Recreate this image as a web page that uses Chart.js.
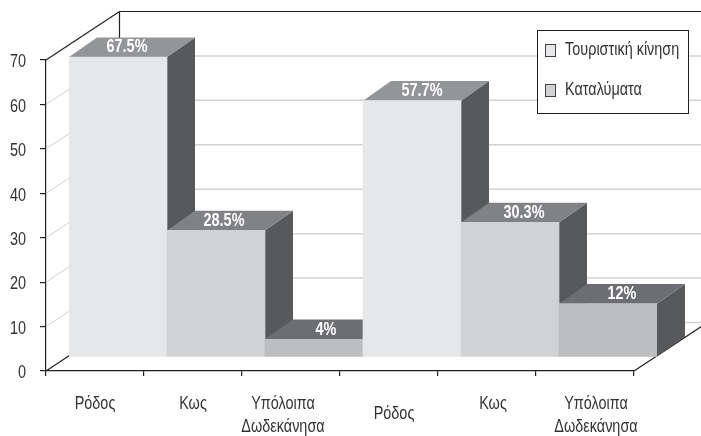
<!DOCTYPE html>
<html>
<head>
<meta charset="utf-8">
<style>
  html, body { margin: 0; padding: 0; background: #fff; }
  canvas { display: block; }
</style>
<script src="https://cdn.jsdelivr.net/npm/chart.js@4/dist/chart.umd.min.js"></script>
</head>
<body>
<canvas id="chart" width="701" height="436"></canvas>
<script>
const categories = ['Ρόδος', 'Κως', ['Υπόλοιπα', 'Δωδεκάνησα'], 'Ρόδος', 'Κως', ['Υπόλοιπα', 'Δωδεκάνησα']];
const shares = [67.5, 28.5, 4, 57.7, 30.3, 12];
const legendLabels = ['Τουριστική κίνηση', 'Καταλύματα'];

const FONT = '"Liberation Sans", sans-serif';
const INK = '#231f20';
const TEXT = '#333333';
const GRID = '#d1d2d4';
const frontColors = ['#e6e7e8', '#d1d2d4', '#bcbec0', '#e6e7e8', '#d1d2d4', '#bcbec0'];
const topColors = ['#939598', '#808285', '#6d6e71', '#939598', '#808285', '#6d6e71'];
const SIDE = '#58595b';

// 3d projection: wall depth, how far the bars stand off the front edge, bar depth
const WALL = { x: 73.5, y: -48.5 };
const FLOOR = { x: 23, y: -14 };
const DEPTH = { x: 28, y: -19.7 };

// no condensed face installed, so the text gets squeezed by hand
const NARROW = 0.76;

// hand nudges, the source has these labels placed by eye
const labelShiftX = [0, 0, -8, 5, 6, 11];
const labelShiftY = [0, 0, 0, 10, 0, 0];
const valueShiftX = [9, 8, 12, 10, 14, 14];

function poly(ctx, pts, fill) {
    ctx.beginPath();
    pts.forEach((p, i) => i ? ctx.lineTo(p[0], p[1]) : ctx.moveTo(p[0], p[1]));
    ctx.closePath();
    ctx.fillStyle = fill;
    ctx.fill();
}

function line(ctx, x1, y1, x2, y2, color, width) {
    ctx.beginPath();
    ctx.moveTo(x1, y1);
    ctx.lineTo(x2, y2);
    ctx.strokeStyle = color;
    ctx.lineWidth = width;
    ctx.stroke();
}

function narrowText(ctx, str, x, y, align) {
    ctx.save();
    ctx.translate(x, y);
    ctx.scale(NARROW, 1);
    ctx.textAlign = align;
    ctx.textBaseline = 'middle';
    ctx.fillText(str, 0, 0);
    ctx.restore();
}

const box3d = {
    id: 'box3d',

    beforeDatasetsDraw(chart) {
        const { ctx, chartArea, scales } = chart;
        const left = chartArea.left;
        const right = chartArea.right;
        const y = scales.y;

        // walls and floor
        y.ticks.forEach(t => {
            const py = y.getPixelForValue(t.value);
            const edge = t.value === 0 || t.value === 70;
            line(ctx, left, py, left + WALL.x, py + WALL.y, edge ? INK : GRID, edge ? 1.2 : 1);
            line(ctx, left + WALL.x, py + WALL.y, right + WALL.x, py + WALL.y,
                t.value === 70 ? INK : GRID, t.value === 70 ? 1.2 : 1.5);
        });
        const py0 = y.getPixelForValue(0);
        line(ctx, left + WALL.x, y.getPixelForValue(70) + WALL.y, left + WALL.x, py0 + WALL.y, INK, 1.2);
        line(ctx, right, py0, right + WALL.x, py0 + WALL.y, INK, 1.2);

        // sides and tops go under the fronts, left to right
        chart.getDatasetMeta(0).data.forEach((bar, i) => {
            const x0 = bar.x - bar.width / 2 + FLOOR.x;
            const x1 = bar.x + bar.width / 2 + FLOOR.x;
            const top = bar.y + FLOOR.y;
            const base = bar.base + FLOOR.y;
            poly(ctx, [[x1, top], [x1 + DEPTH.x, top + DEPTH.y], [x1 + DEPTH.x, base + DEPTH.y], [x1, base]], SIDE);
            poly(ctx, [[x0, top], [x0 + DEPTH.x, top + DEPTH.y], [x1 + DEPTH.x, top + DEPTH.y], [x1, top]], topColors[i]);
        });

        ctx.save();
        ctx.translate(FLOOR.x, FLOOR.y);
    },

    afterDatasetsDraw(chart) {
        const { ctx, scales } = chart;
        ctx.restore();
        ctx.save();

        // value labels sit on the top faces
        ctx.font = 'bold 19px ' + FONT;
        ctx.fillStyle = '#ffffff';
        chart.getDatasetMeta(0).data.forEach((bar, i) => {
            narrowText(ctx, shares[i] + '%', bar.x + FLOOR.x + valueShiftX[i], bar.y + FLOOR.y + DEPTH.y / 2, 'center');
        });

        // axis labels
        ctx.font = '19px ' + FONT;
        ctx.fillStyle = TEXT;
        scales.y.ticks.forEach(t => {
            narrowText(ctx, String(t.value), 26, scales.y.getPixelForValue(t.value) + 2, 'right');
        });
        categories.forEach((label, i) => {
            const x = scales.x.getPixelForValue(i) + labelShiftX[i];
            const y = scales.x.top + 33 + labelShiftY[i];
            [].concat(label).forEach((row, r) => narrowText(ctx, row, x, y + r * 23, 'center'));
        });

        // legend box
        ctx.fillStyle = '#ffffff';
        ctx.fillRect(537.5, 30.5, 151, 83);
        ctx.strokeStyle = INK;
        ctx.lineWidth = 1;
        ctx.strokeRect(537.5, 30.5, 151, 83);
        legendLabels.forEach((label, i) => {
            const top = 44.5 + i * 40;
            ctx.fillStyle = frontColors[i];
            ctx.fillRect(545.5, top, 10, 12);
            ctx.strokeStyle = '#414042';
            ctx.strokeRect(545.5, top, 10, 12);
            ctx.fillStyle = TEXT;
            narrowText(ctx, label, 565, top + 5, 'left');
        });
        ctx.restore();
    }
};

new Chart(document.getElementById('chart'), {
    type: 'bar',
    data: {
        labels: categories,
        datasets: [{
            data: shares,
            backgroundColor: frontColors,
            borderWidth: 0,
            barPercentage: 1,
            categoryPercentage: 1
        }]
    },
    options: {
        responsive: false,
        animation: false,
        layout: { padding: { top: 60, right: 67, left: 0, bottom: 0 } },
        plugins: { legend: { display: false }, tooltip: { enabled: false } },
        scales: {
            x: {
                afterFit(scale) { scale.height = 65; },
                border: { color: INK, width: 1.2 },
                grid: { drawOnChartArea: false, tickLength: 5, color: INK, lineWidth: 1.2 },
                ticks: { display: false, autoSkip: false }
            },
            y: {
                min: 0,
                max: 70,
                afterFit(scale) { scale.width = 46; },
                border: { color: INK, width: 1.2 },
                grid: { drawOnChartArea: false, tickLength: 6, color: INK, lineWidth: 1.2 },
                ticks: { display: false, stepSize: 10 }
            }
        }
    },
    plugins: [box3d]
});
</script>
</body>
</html>
